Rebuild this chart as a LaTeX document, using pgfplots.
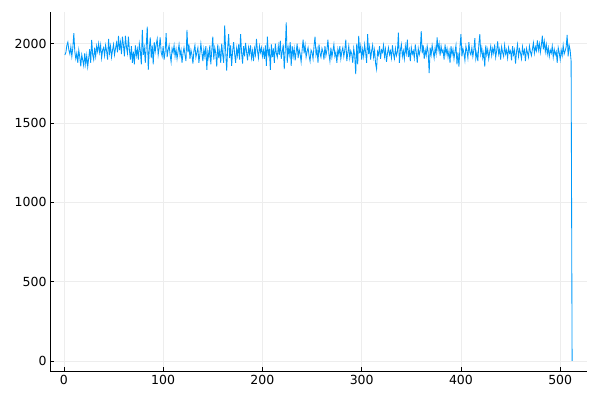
\documentclass[border=0pt]{standalone}
\usepackage{fontspec}
\setmainfont{DejaVu Sans}
\usepackage{pgfplots}
\pgfplotsset{compat=1.18}
\definecolor{jblue}{RGB}{0,154,250}
\begin{document}
\begin{tikzpicture}
\useasboundingbox (0,0) rectangle (600bp,400bp);
\begin{axis}[at={(50bp,29bp)}, anchor=south west, scale only axis,
 width=537bp, height=359bp,
 xmin=-14, xmax=527, ymin=-64, ymax=2200,
 xtick={0,100,...,500}, ytick={0,500,...,2000},
 axis x line*=bottom, axis y line*=left,
 axis line style={black, line width=0.8bp, -},
 tick align=inside, major tick length=4bp, tick style={black, line width=0.6bp},
 grid=major, grid style={black!7, line width=0.5bp},
 tick label style={font=\fontsize{12.5bp}{14bp}\selectfont},
 xticklabel style={yshift=-1bp},
 /pgf/number format/assume math mode=true, /pgf/number format/1000 sep={},
 ]
\addplot[jblue, line width=0.85bp, no marks] table[row sep=\\, x expr=\coordindex+1, y index=0] {
y\\
1929\\ 1945\\ 1990\\ 2010\\ 1960\\ 1935\\ 1980\\ 1920\\ 1975\\ 2066\\
1950\\ 1905\\ 1940\\ 1880\\ 1960\\ 1915\\ 1858\\ 1930\\ 1895\\ 1860\\
1940\\ 1870\\ 1925\\ 1855\\ 1910\\ 1965\\ 1880\\ 2024\\ 1930\\ 1900\\
1975\\ 1920\\ 1985\\ 1950\\ 2000\\ 1945\\ 1990\\ 1910\\ 1960\\ 1975\\
1925\\ 1990\\ 1955\\ 1900\\ 2030\\ 1940\\ 1985\\ 1915\\ 1960\\ 1995\\
1930\\ 1970\\ 2005\\ 1945\\ 2050\\ 1960\\ 2010\\ 1935\\ 2045\\ 1990\\
1920\\ 2050\\ 1980\\ 1940\\ 2045\\ 1960\\ 1900\\ 1985\\ 1880\\ 1950\\
1870\\ 1990\\ 1925\\ 1965\\ 1900\\ 2000\\ 1955\\ 1870\\ 2087\\ 1930\\
1975\\ 1880\\ 1990\\ 2108\\ 1835\\ 1960\\ 2040\\ 1910\\ 1990\\ 1870\\
2010\\ 1950\\ 1995\\ 2030\\ 1930\\ 1975\\ 2040\\ 1945\\ 1920\\ 1985\\
1900\\ 1950\\ 2066\\ 1915\\ 1960\\ 1990\\ 1930\\ 1885\\ 1970\\ 1945\\
1990\\ 1920\\ 1965\\ 1905\\ 1950\\ 1995\\ 1925\\ 1960\\ 1880\\ 1940\\
1975\\ 1930\\ 1890\\ 2087\\ 1945\\ 1995\\ 1905\\ 1960\\ 1930\\ 1875\\
1955\\ 1990\\ 1915\\ 1945\\ 1975\\ 1880\\ 1935\\ 2000\\ 1945\\ 1890\\
1965\\ 1920\\ 1985\\ 1835\\ 1950\\ 1910\\ 1990\\ 1870\\ 1960\\ 2045\\
1900\\ 1975\\ 1940\\ 1855\\ 1995\\ 1910\\ 1960\\ 1880\\ 2000\\ 1930\\
1880\\ 2115\\ 1950\\ 1830\\ 1975\\ 2060\\ 1910\\ 1990\\ 1860\\ 1955\\
2010\\ 1935\\ 1880\\ 1970\\ 1925\\ 1995\\ 1900\\ 2060\\ 1945\\ 1875\\
1985\\ 1920\\ 2005\\ 1950\\ 1895\\ 1975\\ 1935\\ 1990\\ 1910\\ 1955\\
1890\\ 1970\\ 1930\\ 2030\\ 1955\\ 1910\\ 1985\\ 1945\\ 1975\\ 1920\\
1960\\ 1905\\ 1990\\ 1860\\ 2045\\ 1930\\ 1960\\ 1835\\ 1995\\ 1915\\
1970\\ 1880\\ 2000\\ 1940\\ 1915\\ 1985\\ 1930\\ 2020\\ 1905\\ 1950\\
1995\\ 1840\\ 1960\\ 2135\\ 1880\\ 1975\\ 1930\\ 2010\\ 1860\\ 1985\\
1920\\ 1970\\ 1895\\ 1950\\ 2000\\ 1910\\ 1965\\ 1935\\ 1885\\ 1960\\
2025\\ 1940\\ 1990\\ 1915\\ 1950\\ 1975\\ 1925\\ 1890\\ 1960\\ 1945\\
1905\\ 1985\\ 2045\\ 1930\\ 1965\\ 1880\\ 1995\\ 1940\\ 1915\\ 1970\\
1950\\ 1900\\ 1985\\ 1925\\ 1960\\ 2025\\ 1935\\ 1890\\ 1975\\ 1915\\
1955\\ 1995\\ 1920\\ 1945\\ 1880\\ 1965\\ 1930\\ 1985\\ 1905\\ 1950\\
1975\\ 1920\\ 1960\\ 2025\\ 1890\\ 1940\\ 1985\\ 1910\\ 1955\\ 1935\\
1880\\ 1970\\ 1925\\ 1808\\ 2000\\ 1870\\ 2050\\ 1940\\ 1985\\ 1900\\
1965\\ 1920\\ 1995\\ 1945\\ 1880\\ 2060\\ 1935\\ 1980\\ 1900\\ 1955\\
1990\\ 1915\\ 1960\\ 1875\\ 1840\\ 1950\\ 1930\\ 1985\\ 1905\\ 1960\\
1945\\ 1990\\ 1920\\ 1965\\ 1885\\ 1940\\ 1975\\ 1930\\ 1955\\ 1910\\
1990\\ 1935\\ 1905\\ 1970\\ 1925\\ 1950\\ 2070\\ 1880\\ 1960\\ 1995\\
1920\\ 1955\\ 1905\\ 1985\\ 1940\\ 2025\\ 1915\\ 1960\\ 1890\\ 1975\\
1935\\ 1955\\ 1910\\ 1995\\ 1945\\ 1880\\ 1970\\ 1930\\ 1960\\ 2080\\
1940\\ 1990\\ 1905\\ 1960\\ 1925\\ 1985\\ 1945\\ 1815\\ 1975\\ 1930\\
1990\\ 1950\\ 1910\\ 1975\\ 1935\\ 2040\\ 1960\\ 2000\\ 1925\\ 1985\\
1945\\ 1960\\ 1900\\ 1995\\ 1935\\ 1970\\ 1915\\ 1955\\ 1880\\ 1985\\
1930\\ 1965\\ 1905\\ 1950\\ 1990\\ 1870\\ 1945\\ 1855\\ 1975\\ 2060\\
1920\\ 1970\\ 1940\\ 1895\\ 1985\\ 1955\\ 1910\\ 2010\\ 1945\\ 1930\\
1975\\ 1920\\ 1960\\ 2035\\ 1905\\ 1945\\ 1890\\ 1990\\ 2060\\ 1935\\
1975\\ 1910\\ 1945\\ 1855\\ 1990\\ 1930\\ 1965\\ 1905\\ 1950\\ 1985\\
1925\\ 1970\\ 1940\\ 1995\\ 1915\\ 1955\\ 2015\\ 1935\\ 1965\\ 1900\\
1980\\ 1945\\ 1920\\ 1990\\ 1935\\ 1960\\ 1910\\ 1975\\ 1940\\ 1955\\
1895\\ 1985\\ 1930\\ 1960\\ 1875\\ 1950\\ 1995\\ 1920\\ 1965\\ 1940\\
1905\\ 1980\\ 1935\\ 1960\\ 1890\\ 1970\\ 1945\\ 1915\\ 1985\\ 1950\\
1925\\ 1965\\ 2005\\ 1940\\ 1980\\ 1955\\ 2020\\ 1960\\ 2000\\ 1945\\
1990\\ 2050\\ 1965\\ 2015\\ 1950\\ 1995\\ 1935\\ 1975\\ 1920\\ 1960\\
1940\\ 1985\\ 1915\\ 1965\\ 1930\\ 1950\\ 1880\\ 1975\\ 1945\\ 1900\\
1960\\ 1925\\ 1990\\ 1935\\ 1955\\ 1980\\ 2055\\ 1920\\ 1990\\ 1960\\
1890\\ 0\\
};
\end{axis}
\end{tikzpicture}
\end{document}
